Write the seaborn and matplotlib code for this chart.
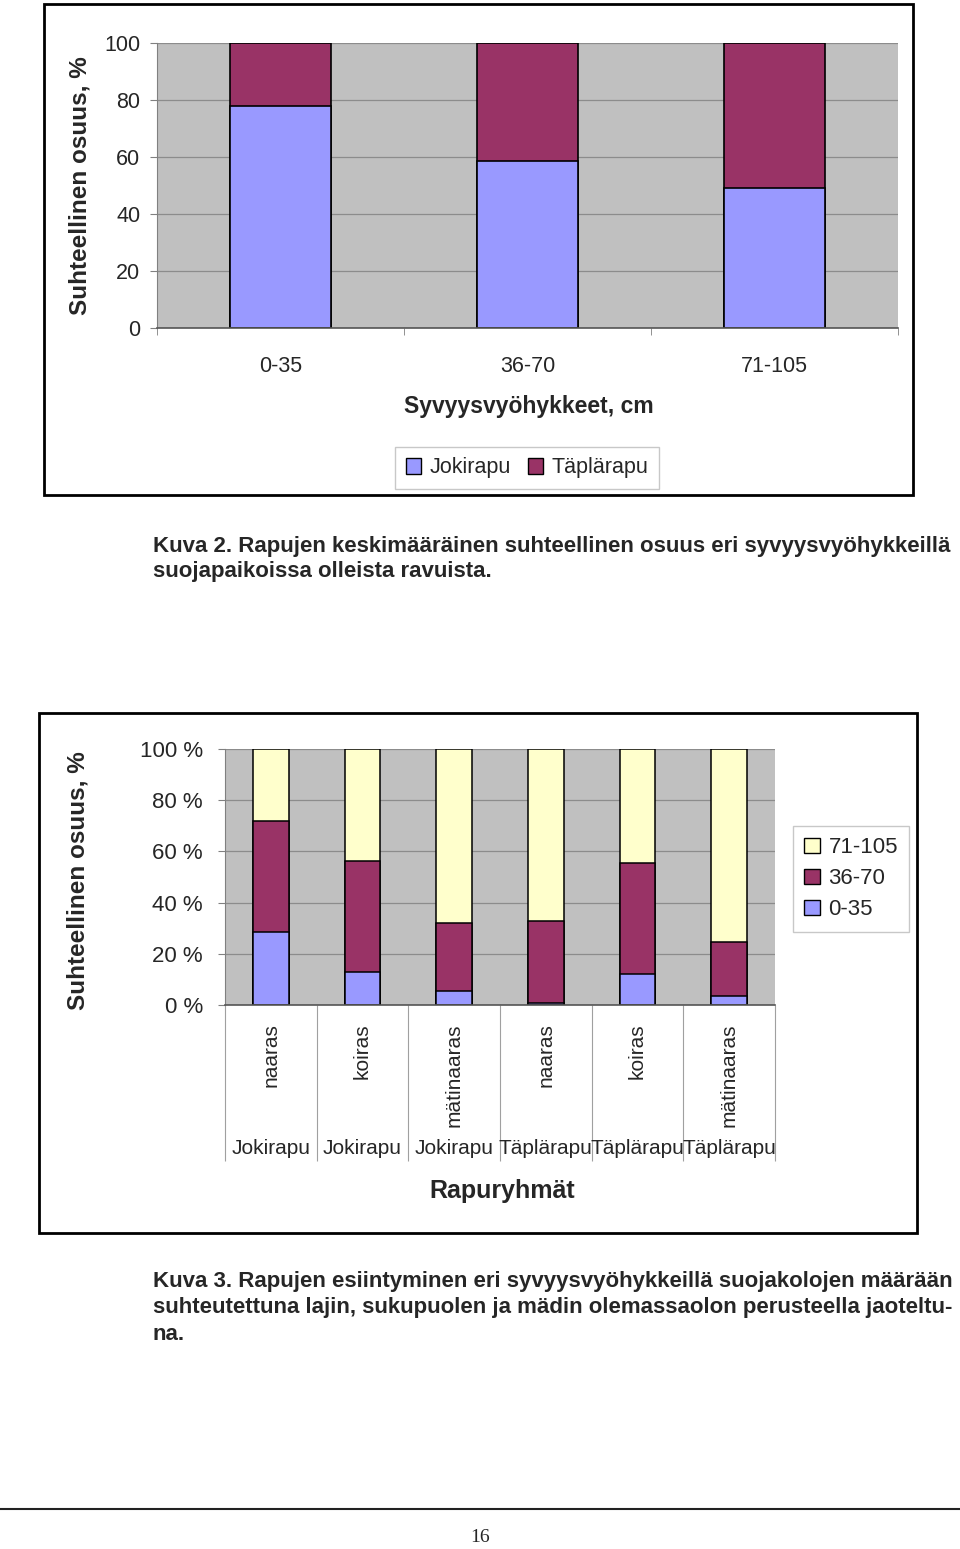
import numpy as np
import seaborn as sns
import matplotlib.pyplot as plt
import matplotlib.transforms as mtransforms
from matplotlib.patches import Patch, Rectangle
from matplotlib.lines import Line2D

# --- data: Kuva 2 ---
zones = ['0-35', '36-70', '71-105']
jokirapu = [78.0, 58.5, 49.0]
taplarapu = [22.0, 41.5, 51.0]

# --- data: Kuva 3 ---
groups = ['naaras', 'koiras', 'mätinaaras', 'naaras', 'koiras', 'mätinaaras']
species = ['Jokirapu', 'Jokirapu', 'Jokirapu', 'Täplärapu', 'Täplärapu', 'Täplärapu']
zone_0_35 = [28.7, 12.7, 5.5, 0.7, 12.2, 3.7]
zone_36_70 = [43.3, 43.5, 26.4, 32.3, 43.3, 20.9]
zone_71_105 = [28.0, 43.8, 68.1, 67.0, 44.5, 75.4]

BLUE = '#9999FF'
PURPLE = '#993366'
YELLOW = '#FFFFCC'
BG = '#C0C0C0'
GRID = '#8C8C8C'

sns.set_style('white')
NARROW = ['Liberation Sans Narrow', 'Liberation Sans', 'DejaVu Sans']
WIDE = ['Liberation Sans', 'DejaVu Sans']
plt.rcParams['font.family'] = NARROW

W, H = 960, 1549
fx = lambda px: px / W
fy = lambda px: 1 - px / H

fig = plt.figure(figsize=(9.6, 15.49), dpi=100)


def style_axes(ax):
	ax.set_facecolor(BG)
	ax.set_ylim(0, 100)
	ax.set_yticks(np.arange(0, 101, 20))
	ax.yaxis.grid(True, color=GRID, lw=0.9)
	ax.set_axisbelow(True)
	for s in ['top', 'right']:
		ax.spines[s].set_visible(False)
	ax.spines['left'].set_color('#808080')
	ax.spines['bottom'].set_color('#555555')
	ax.spines['bottom'].set_linewidth(1.2)
	ax.set_xlabel('')
	ax.set_ylabel('')


### Kuva 2 chart
ax1 = fig.add_axes([fx(157), fy(328), fx(898) - fx(157), (328 - 43) / H])
totals = np.add(jokirapu, taplarapu)
sns.barplot(x=zones, y=totals, color=PURPLE, saturation=1, width=0.405,
			edgecolor='black', linewidth=1.2, ax=ax1)
sns.barplot(x=zones, y=jokirapu, color=BLUE, saturation=1, width=0.405,
			edgecolor='black', linewidth=1.2, ax=ax1)
style_axes(ax1)
ax1.set_xlim(-0.5, 2.5)
ax1.set_xticks(np.arange(-0.5, 3, 1), minor=True)
ax1.tick_params(axis='x', which='major', length=0, pad=20, labelsize=15.5)
ax1.tick_params(axis='x', which='minor', length=5, color='#808080', direction='out', bottom=True)
ax1.tick_params(axis='y', length=5, color='#808080', direction='out', left=True, pad=7, labelsize=15.5)

fig.text(fx(80), fy(186), 'Suhteellinen osuus, %', rotation=90, ha='center', va='center',
		 fontsize=17.5, fontweight='bold', family=WIDE)
fig.text(fx(529), fy(406), 'Syvyysvyöhykkeet, cm', ha='center', va='center',
		 fontsize=16.5, fontweight='bold', family=WIDE)
fig.legend(handles=[Patch(fc=BLUE, ec='black', label='Jokirapu'),
					Patch(fc=PURPLE, ec='black', label='Täplärapu')],
		   loc='center', bbox_to_anchor=(fx(527), fy(468)), ncol=2, frameon=True,
		   fancybox=False, edgecolor='#BBBBBB', handlelength=0.7, handleheight=0.7,
		   handletextpad=0.4, columnspacing=0.8, fontsize=15.5, borderpad=0.5)
fig.add_artist(Rectangle((fx(44), fy(495)), fx(913) - fx(44), (495 - 4) / H,
						 transform=fig.transFigure, fill=False, lw=2, ec='black'))

fig.text(fx(153), fy(546), 'Kuva 2. Rapujen keskimääräinen suhteellinen osuus eri syvyysvyöhykkeillä',
		 ha='left', va='center', fontsize=16, fontweight='bold', family=WIDE)
fig.text(fx(153), fy(572), 'suojapaikoissa olleista ravuista.',
		 ha='left', va='center', fontsize=16, fontweight='bold', family=WIDE)


### Kuva 3 chart
ax2 = fig.add_axes([fx(225), fy(1005), fx(775) - fx(225), (1005 - 749) / H])
keys = [s + ' ' + g for s, g in zip(species, groups)]
cum2 = np.add(zone_0_35, zone_36_70)
cum3 = cum2 + np.array(zone_71_105)
for vals, col in [(cum3, YELLOW), (cum2, PURPLE), (zone_0_35, BLUE)]:
	sns.barplot(x=keys, y=vals, color=col, saturation=1, width=0.39,
				edgecolor='black', linewidth=1.1, ax=ax2)
style_axes(ax2)
ax2.set_xlim(-0.5, 5.5)
ax2.set_yticklabels(['%d %%' % v for v in range(0, 101, 20)])
ax2.set_xticks(range(len(groups)))
ax2.set_xticklabels(groups, rotation=90, va='top')
ax2.set_xticks(np.arange(-0.5, 6, 1), minor=True)
ax2.tick_params(axis='x', which='major', length=0, pad=13, labelsize=15)
ax2.tick_params(axis='x', which='minor', length=112, width=0.8, color='#A0A0A0',
				direction='out', bottom=True)
ax2.tick_params(axis='y', length=5, color='#808080', direction='out', left=True, pad=11, labelsize=16)
trans = mtransforms.blended_transform_factory(ax2.transData, ax2.transAxes)
for i, s in enumerate(species):
	ax2.text(i, -(1148 - 1005) / (1005 - 749), s, transform=trans, ha='center', va='center', fontsize=15)

fig.text(fx(78), fy(881), 'Suhteellinen osuus, %', rotation=90, ha='center', va='center',
		 fontsize=17.5, fontweight='bold', family=WIDE)
fig.text(fx(502), fy(1191), 'Rapuryhmät', ha='center', va='center',
		 fontsize=18, fontweight='bold')
fig.legend(handles=[Patch(fc=YELLOW, ec='black', label='71-105'),
					Patch(fc=PURPLE, ec='black', label='36-70'),
					Patch(fc=BLUE, ec='black', label='0-35')],
		   loc='center', bbox_to_anchor=(fx(851), fy(879)), ncol=1, frameon=True,
		   fancybox=False, edgecolor='#BBBBBB', handlelength=0.7, handleheight=0.7,
		   handletextpad=0.4, labelspacing=0.45, fontsize=16, borderpad=0.5)
fig.add_artist(Rectangle((fx(39), fy(1233)), fx(917) - fx(39), (1233 - 713) / H,
						 transform=fig.transFigure, fill=False, lw=2, ec='black'))

cap3 = ['Kuva 3. Rapujen esiintyminen eri syvyysvyöhykkeillä suojakolojen määrään',
		'suhteutettuna lajin, sukupuolen ja mädin olemassaolon perusteella jaoteltu-',
		'na.']
for k, line in enumerate(cap3):
	fig.text(fx(153), fy(1282 + 26 * k), line, ha='left', va='center',
			 fontsize=16, fontweight='bold', family=WIDE)

### page footer
fig.add_artist(Line2D([0, 1], [fy(1509), fy(1509)], transform=fig.transFigure, color='#222222', lw=1.5))
fig.text(0.5, fy(1538), '16', ha='center', va='center', fontsize=14, family=['Liberation Serif', 'DejaVu Serif'])

fig.savefig('out.png', dpi=100, facecolor='white')
